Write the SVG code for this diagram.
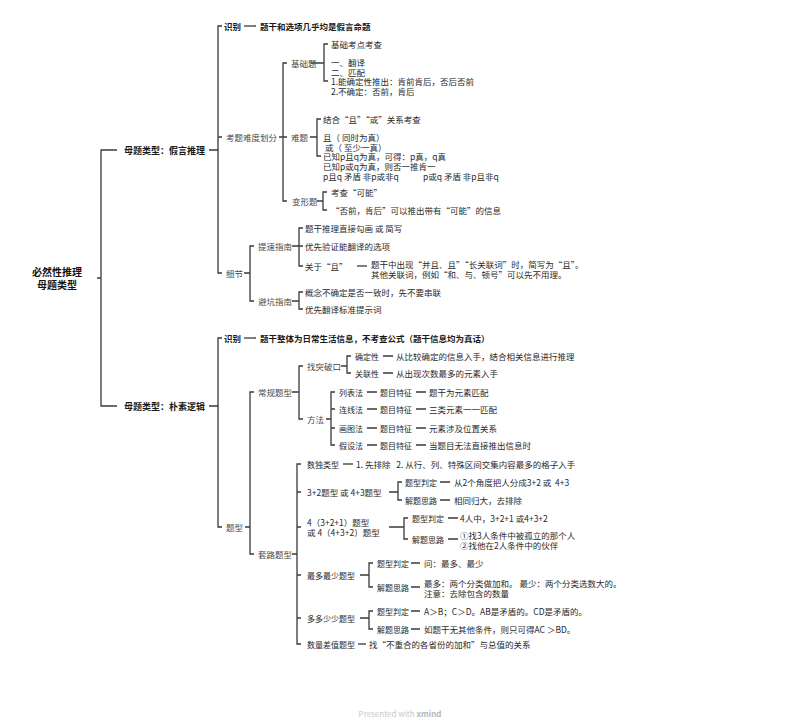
<svg xmlns="http://www.w3.org/2000/svg" width="800" height="724" viewBox="0 0 800 724">
<style>
text{font-family:"Noto Sans CJK SC","Noto Sans",sans-serif;dominant-baseline:central;white-space:pre}
.t{font-size:8.5px;fill:#2a2a2a}
.l{font-size:8px;fill:#2a2a2a}
.g{font-size:8.5px;fill:#4a4a4a}
.b{font-size:8.5px;font-weight:bold;fill:#1a1a1a}
.m{font-size:9px;font-weight:bold;fill:#1a1a1a}
.r{font-size:10px;font-weight:bold;fill:#111;text-anchor:middle}
.f{font-size:8px;fill:#c8c8c8;text-anchor:middle}
.c path{fill:none;stroke:#3a3a3a;stroke-width:1.3}
</style>
<rect width="800" height="724" fill="#fff"/>
<g class="c" id="connectors">
<path d="M97 278H101M117 150H101V406H117"/>
<path d="M209 150H218M222 26H218V273H222M218 137H222"/>
<path d="M244 26H256"/>
<path d="M279 137H283M287 63H283V201H287M283 137H287"/>
<path d="M311 63H324M328 44H324V81H328"/>
<path d="M310 137H317M321 119H317V156H321"/>
<path d="M317 201H323M327 192H323V210H327"/>
<path d="M244 273H250M254 246H250V301H254"/>
<path d="M292 246H299M303 228H299V266H303M299 246H303"/>
<path d="M357 266H367"/>
<path d="M292 301H299M303 292H299V309H303"/>
<path d="M209 406H218M222 338H218V527H222"/>
<path d="M244 338H256"/>
<path d="M245 527H250M254 392H250V554H254"/>
<path d="M292 392H299M303 366H299V419H303"/>
<path d="M341 366H347M351 356H347V373H351"/>
<path d="M383 356H393M383 373H393"/>
<path d="M326 419H331M335 392H331V445H335M331 409H335M331 428H335"/>
<path d="M367 392H377M416 392H426M367 409H377M416 409H426M367 428H377M416 428H426M367 445H377M416 445H426"/>
<path d="M292 554H297M301 464H297V644H301M297 492H301M297 527H301M297 575H301M297 618H301"/>
<path d="M343 464H353"/>
<path d="M389 492H398M402 482H398V500H402"/>
<path d="M440 482H450M440 500H450"/>
<path d="M389 527H404M408 518H404V539H408"/>
<path d="M448 518H458M448 539H458"/>
<path d="M360 575H369M373 563H369V587H373"/>
<path d="M411 563H420M411 587H420"/>
<path d="M360 618H369M373 611H369V629H373"/>
<path d="M411 611H420M411 629H420"/>
<path d="M358 644H366"/>
</g>
<g id="root"><text class="r" x="57" y="271">必然性推理</text><text class="r" x="57" y="284">母题类型</text></g>
<g id="b1"><text class="m" x="124" y="150">母题类型：假言推理</text></g>
<g id="b1-shibie"><text class="b" x="224" y="26">识别</text><text class="b" x="260" y="26">题干和选项几乎均是假言命题</text></g>
<g id="kaoti"><text class="g" x="226" y="137">考题难度划分</text></g>
<g id="jichu"><text class="g" x="291" y="63">基础题</text></g>
<g id="jichu-1"><text class="t" x="331" y="44">基础考点考查</text></g>
<g id="jichu-2"><text class="t" x="331" y="62">一、翻译</text><text class="t" x="331" y="72">二、匹配</text></g>
<g id="jichu-3"><text class="t" x="331" y="81">1.能确定性推出：肯前肯后，否后否前</text><text class="t" x="331" y="91">2.不确定：否前，肯后</text></g>
<g id="nanti"><text class="g" x="291" y="137">难题</text></g>
<g id="nanti-1"><text class="t" x="323" y="119">结合“且”“或”关系考查</text></g>
<g id="nanti-2"><text class="t" x="323" y="137">且（ 同时为真）</text><text class="t" x="325" y="147">或（ 至少一真）</text></g>
<g id="nanti-3"><text class="t" x="323" y="156">已知p且q为真，可得：p真，q真</text><text class="t" x="323" y="166">已知p或q为真，则否一推肯一</text><text class="t" x="323" y="176">p且q 矛盾 非p或非q</text><text class="t" x="423" y="176">p或q 矛盾 非p且非q</text></g>
<g id="bianxing"><text class="g" x="292" y="201">变形题</text></g>
<g id="bianxing-1"><text class="t" x="331" y="192">考查“可能”</text></g>
<g id="bianxing-2"><text class="t" x="331" y="210">“否前，肯后”可以推出带有“可能”的信息</text></g>
<g id="xijie"><text class="g" x="226" y="273">细节</text></g>
<g id="tisu"><text class="g" x="258" y="246">提速指南</text></g>
<g id="tisu-1"><text class="t" x="305" y="228">题干推理直接勾画 或 简写</text></g>
<g id="tisu-2"><text class="t" x="305" y="246">优先验证能翻译的选项</text></g>
<g id="tisu-3"><text class="t" x="305" y="266">关于“且”</text><text class="t" x="371" y="264">题干中出现“并且、且”“长关联词”时，简写为“且”。</text><text class="t" x="371" y="274">其他关联词，例如“和、与、顿号”可以先不用理。</text></g>
<g id="bikeng"><text class="g" x="258" y="301">避坑指南</text></g>
<g id="bikeng-1"><text class="t" x="305" y="292">概念不确定是否一致时，先不要串联</text></g>
<g id="bikeng-2"><text class="t" x="305" y="309">优先翻译标准提示词</text></g>
<g id="b2"><text class="m" x="124" y="406">母题类型：朴素逻辑</text></g>
<g id="b2-shibie"><text class="b" x="224" y="338">识别</text><text class="b" x="260" y="338">题干整体为日常生活信息，不考查公式（题干信息均为真话）</text></g>
<g id="tixing"><text class="g" x="226" y="527">题型</text></g>
<g id="changgui"><text class="g" x="258" y="392">常规题型</text></g>
<g id="tupo"><text class="g" x="307" y="366">找突破口</text></g>
<g id="tupo-1"><text class="l" x="355" y="356">确定性</text><text class="t" x="396" y="356">从比较确定的信息入手，结合相关信息进行推理</text></g>
<g id="tupo-2"><text class="l" x="355" y="373">关联性</text><text class="t" x="396" y="373">从出现次数最多的元素入手</text></g>
<g id="fangfa"><text class="g" x="307" y="419">方法</text></g>
<g id="ff-1"><text class="l" x="339" y="392">列表法</text><text class="l" x="380" y="392">题目特征</text><text class="t" x="429" y="392">题干为元素匹配</text></g>
<g id="ff-2"><text class="l" x="339" y="409">连线法</text><text class="l" x="380" y="409">题目特征</text><text class="t" x="429" y="409">三类元素一一匹配</text></g>
<g id="ff-3"><text class="l" x="339" y="428">画图法</text><text class="l" x="380" y="428">题目特征</text><text class="t" x="429" y="428">元素涉及位置关系</text></g>
<g id="ff-4"><text class="l" x="339" y="445">假设法</text><text class="l" x="380" y="445">题目特征</text><text class="t" x="429" y="445">当题目无法直接推出信息时</text></g>
<g id="taolu"><text class="g" x="258" y="554">套路题型</text></g>
<g id="shudu"><text class="l" x="307" y="464">数独类型</text><text class="t" x="356" y="464">1. 先排除   2. 从行、列、特殊区间交集内容最多的格子入手</text></g>
<g id="t32"><text class="t" x="307" y="492">3+2题型 或 4+3题型</text></g>
<g id="t32-1"><text class="l" x="405" y="482">题型判定</text><text class="t" x="454" y="482">从2个角度把人分成3+2 或  4+3</text></g>
<g id="t32-2"><text class="l" x="405" y="500">解题思路</text><text class="t" x="454" y="500">相同归大，去排除</text></g>
<g id="t4"><text class="t" x="307" y="522">4（3+2+1）题型</text><text class="t" x="307" y="532">或 4（4+3+2）题型</text></g>
<g id="t4-1"><text class="l" x="412" y="518">题型判定</text><text class="t" x="460" y="518">4人中，3+2+1 或4+3+2</text></g>
<g id="t4-2"><text class="l" x="412" y="539">解题思路</text><text class="t" x="460" y="535">①找3人条件中被孤立的那个人</text><text class="t" x="460" y="545">②找他在2人条件中的伙伴</text></g>
<g id="zuiduo"><text class="l" x="307" y="575">最多最少题型</text></g>
<g id="zuiduo-1"><text class="l" x="377" y="563">题型判定</text><text class="t" x="424" y="563">问：最多、最少</text></g>
<g id="zuiduo-2"><text class="l" x="377" y="587">解题思路</text><text class="t" x="424" y="583">最多：两个分类做加和。 最少：两个分类选数大的。</text><text class="t" x="424" y="593">注意：去除包含的数量</text></g>
<g id="duoduo"><text class="l" x="307" y="618">多多少少题型</text></g>
<g id="duoduo-1"><text class="l" x="377" y="611">题型判定</text><text class="t" x="424" y="611">A＞B；C＞D。AB是矛盾的。CD是矛盾的。</text></g>
<g id="duoduo-2"><text class="l" x="377" y="629">解题思路</text><text class="t" x="424" y="629">如题干无其他条件，则只可得AC ＞BD。</text></g>
<g id="chazhi"><text class="l" x="307" y="644">数量差值题型</text><text class="t" x="369" y="644">找“不重合的各省份的加和”与总值的关系</text></g>
<g id="footer"><text class="f" x="400" y="713">Presented with <tspan font-weight="bold" fill="#b8b8b8">xmind</tspan></text></g>
</svg>
